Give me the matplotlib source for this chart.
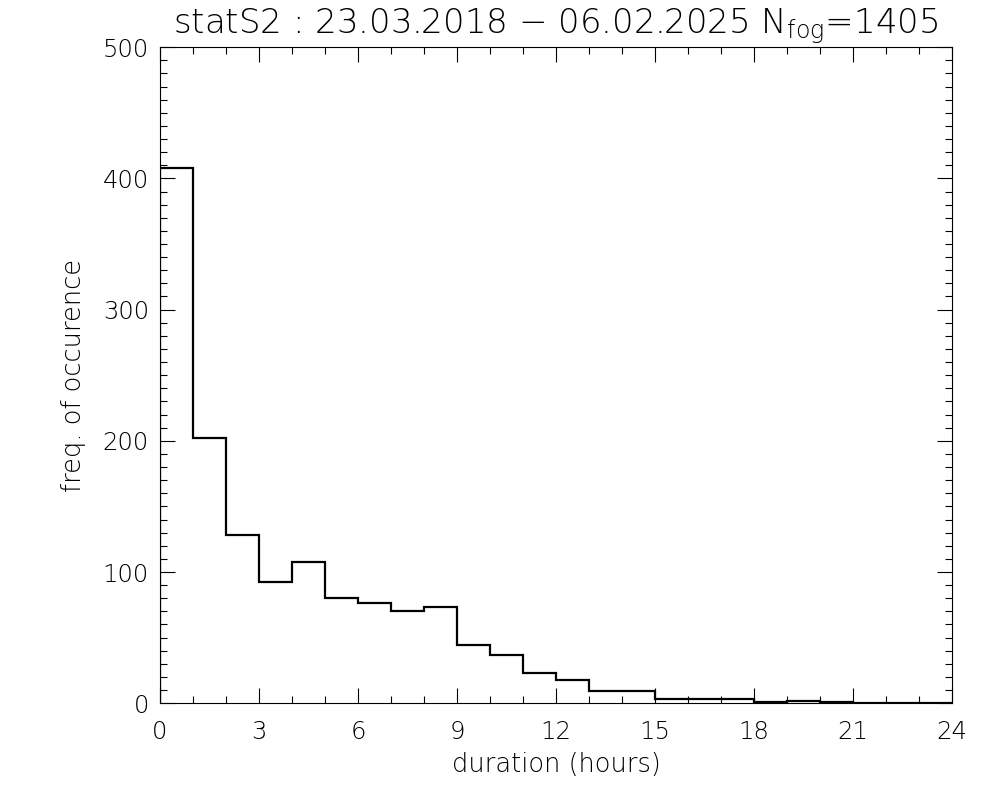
import numpy as np
import matplotlib
matplotlib.use("Agg")
import matplotlib.pyplot as plt
from matplotlib.ticker import MultipleLocator

# fog duration histogram, 1-hour bins from 0 to 24 h
bin_edges = list(range(0, 25))
counts = [408, 202, 128, 92, 108, 80, 76, 70, 73, 44, 37, 23, 18,
          9, 9, 3, 3, 3, 1, 2, 1, 0, 0, 0]

title = r"statS2 : 23.03.2018 $-$ 06.02.2025 N$_{\rm fog}$=1405"
xlabel = "duration (hours)"
ylabel = "freq. of occurence"

plt.rcParams['font.family'] = ['DejaVu Sans']
plt.rcParams['font.weight'] = 200
plt.rcParams['axes.titleweight'] = 200
plt.rcParams['axes.labelweight'] = 200
plt.rcParams['mathtext.fontset'] = 'custom'
plt.rcParams['mathtext.rm'] = 'DejaVu Sans:weight=200'

fig = plt.figure(figsize=(10, 8), dpi=100)
ax = fig.add_axes([0.16, 0.121, 0.792, 0.820])

ax.stairs(counts, bin_edges, color='black', linewidth=1.6, baseline=0)

ax.set_xlim(0, 24)
ax.set_ylim(0, 500)
ax.xaxis.set_major_locator(MultipleLocator(3))
ax.xaxis.set_minor_locator(MultipleLocator(1))
ax.yaxis.set_major_locator(MultipleLocator(100))
ax.yaxis.set_minor_locator(MultipleLocator(10))
ax.tick_params(which='both', direction='in', top=True, right=True,
               width=0.8, labelsize=17.5, pad=8)
ax.tick_params(axis='x', pad=12)
ax.tick_params(which='major', length=11)
ax.tick_params(which='minor', length=5)
for s in ax.spines.values():
    s.set_linewidth(0.8)

ax.set_xlabel(xlabel, fontsize=18.5, labelpad=6)
ax.set_ylabel(ylabel, fontsize=18.5, labelpad=12)
ax.set_title(title, fontsize=24.5, pad=10)

fig.savefig("out.png", dpi=100)
